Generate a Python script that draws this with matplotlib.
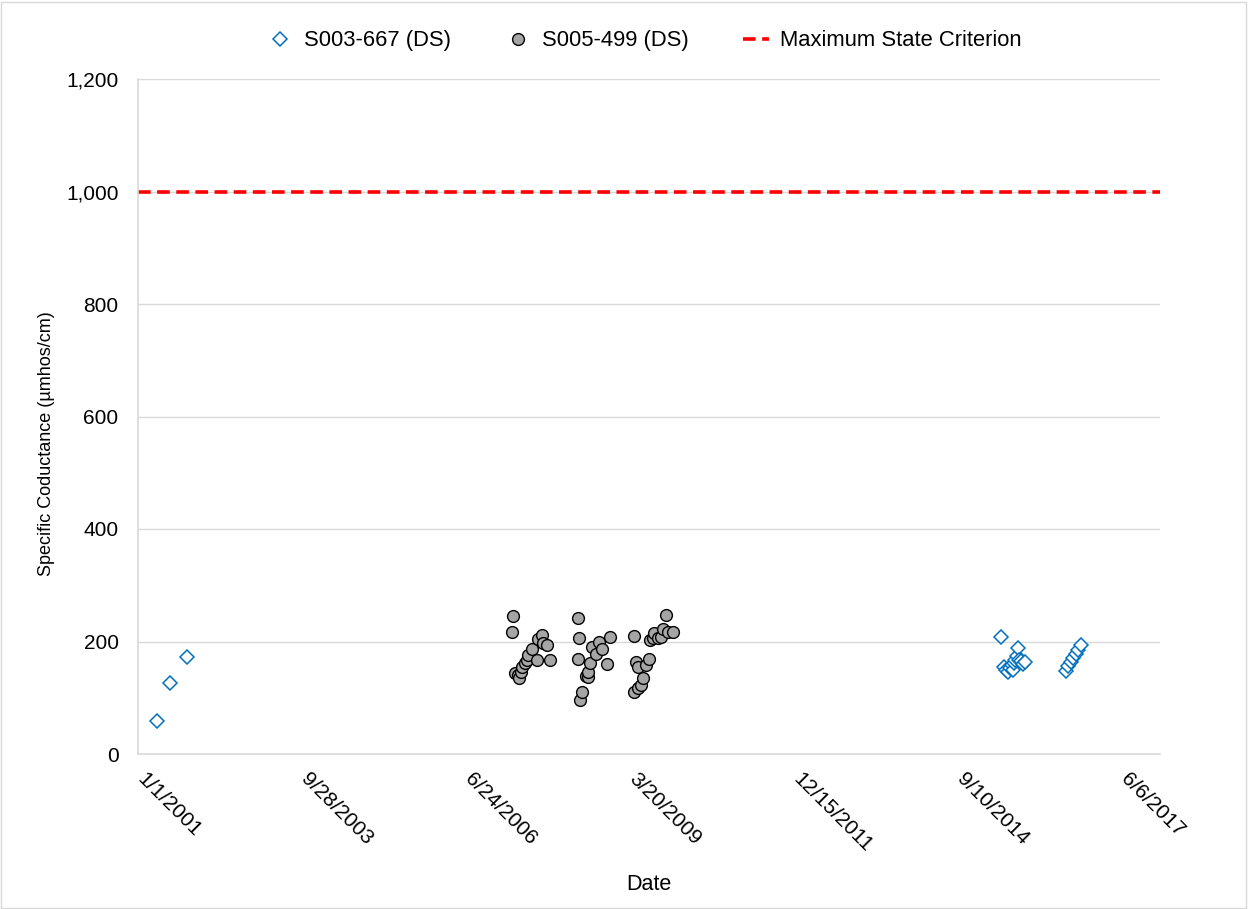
import pandas as pd
import matplotlib
matplotlib.use("Agg")
import matplotlib.pyplot as plt
from matplotlib.patches import Rectangle
from matplotlib.transforms import ScaledTranslation

plt.rcParams['font.family'] = ['Liberation Sans', 'DejaVu Sans']

# S003-667 (DS) samples
s003_dates = ["2001-04-27", "2001-07-15", "2001-10-27",
              "2015-06-03", "2015-06-21", "2015-07-03", "2015-07-16", "2015-07-28",
              "2015-08-09", "2015-08-15", "2015-08-21", "2015-08-27", "2015-09-09",
              "2015-09-15", "2015-09-21", "2015-10-03", "2015-10-15", "2015-10-27",
              "2016-07-04", "2016-07-16", "2016-08-03", "2016-08-16", "2016-09-03",
              "2016-09-15", "2016-10-03"]
s003_values = [59, 126, 172,
               208, 155, 149, 146, 153,
               158, 149, 162, 167, 174,
               188, 167, 165, 160, 163,
               147, 156, 163, 170, 177,
               185, 193]

# S005-499 (DS) samples
s005_dates = ["2007-04-03", "2007-04-09", "2007-04-23", "2007-05-11", "2007-05-14",
              "2007-05-24", "2007-06-05", "2007-06-23", "2007-07-05", "2007-07-11",
              "2007-08-05", "2007-09-04", "2007-09-10", "2007-10-03", "2007-10-11",
              "2007-11-04", "2007-11-17",
              "2008-05-06", "2008-05-08", "2008-05-12", "2008-05-24", "2008-06-05",
              "2008-06-24", "2008-07-06", "2008-07-08", "2008-07-24", "2008-08-05",
              "2008-08-24", "2008-09-11", "2008-10-05", "2008-10-30", "2008-11-23",
              "2009-04-13", "2009-04-15", "2009-04-25", "2009-05-07", "2009-05-09",
              "2009-05-26", "2009-06-07", "2009-06-25", "2009-07-13", "2009-07-20",
              "2009-08-07", "2009-08-13", "2009-09-06", "2009-09-25", "2009-10-07",
              "2009-10-25", "2009-11-06", "2009-12-07"]
s005_values = [217, 245, 144, 140, 135,
               146, 155, 162, 167, 176,
               186, 167, 204, 211, 197,
               194, 167,
               241, 169, 206, 96, 110,
               139, 137, 146, 162, 190,
               178, 199, 186, 160, 208,
               210, 110, 163, 155, 117,
               123, 135, 158, 169, 203,
               206, 215, 206, 208, 222,
               247, 217, 217]

criterion = 1000
tick_dates = ["2001-01-01", "2003-09-28", "2006-06-24", "2009-03-20",
              "2011-12-15", "2014-09-10", "2017-06-06"]
y_ticks = [0, 200, 400, 600, 800, 1000, 1200]

fig = plt.figure(figsize=(12.48, 9.09), dpi=100)
ax = fig.add_axes([138/1248, 1-754/909, 1022/1248, 675/909])

x_lo = pd.Timestamp("2001-01-01")
x_hi = pd.Timestamp("2018-01-28")

ax.plot(pd.to_datetime(s003_dates), s003_values, ls='None', marker='D', ms=7,
        mfc='white', mec='#0070c0', mew=1.1, label="S003-667 (DS)", zorder=3)
ax.plot(pd.to_datetime(s005_dates), s005_values, ls='None', marker='o', ms=8.5,
        mfc='#a5a5a5', mec='black', mew=1.0, label="S005-499 (DS)", zorder=3)
ax.plot([x_lo, x_hi], [criterion, criterion], color='#ff0000', lw=2.6,
        ls=(0, (3.5, 1.8)), label="Maximum State Criterion", zorder=2)

ax.set_xlim(x_lo, x_hi)
ax.set_ylim(0, 1200)
ticks = pd.to_datetime(tick_dates)
ax.set_xticks(ticks)
ax.set_xticklabels([f"{t.month}/{t.day}/{t.year}" for t in ticks], rotation=-45,
                   ha='left', va='top', rotation_mode='anchor', fontsize=15)
ax.set_yticks(y_ticks)
ax.set_yticklabels([f"{v:,}" for v in y_ticks], fontsize=15)
ax.tick_params(axis='both', length=0, colors='black')
ax.tick_params(axis='x', pad=14)
ax.tick_params(axis='y', pad=14)

# nudge the slanted date labels so they start at the tick like Excel does
shift = ScaledTranslation(0.09, 0.04, fig.dpi_scale_trans)
for lbl in ax.get_xticklabels():
    lbl.set_transform(lbl.get_transform() + shift)

ax.grid(axis='y', color='#d9d9d9', lw=1)
ax.set_axisbelow(True)
for side in ['top', 'right']:
    ax.spines[side].set_visible(False)
for side in ['left', 'bottom']:
    ax.spines[side].set_color('#d9d9d9')
    ax.spines[side].set_linewidth(1.2)

ax.set_xlabel("Date", fontsize=15.5)
ax.xaxis.set_label_coords(0.5, -0.178)
ax.set_ylabel("Specific Coductance (\u00b5mhos/cm)", fontsize=13)
ax.yaxis.set_label_coords(-0.081, 0.46)

fig.legend(loc='center', bbox_to_anchor=(0.5164, 0.955), ncol=3, frameon=False,
           fontsize=15.8, handlelength=1.2, handletextpad=0.5, columnspacing=2.45)

fig.patches.append(Rectangle((0.0005, 0.001), 0.998, 0.997, transform=fig.transFigure,
                             fill=False, edgecolor='#d9d9d9', lw=1))

fig.savefig("out.png", dpi=100)
